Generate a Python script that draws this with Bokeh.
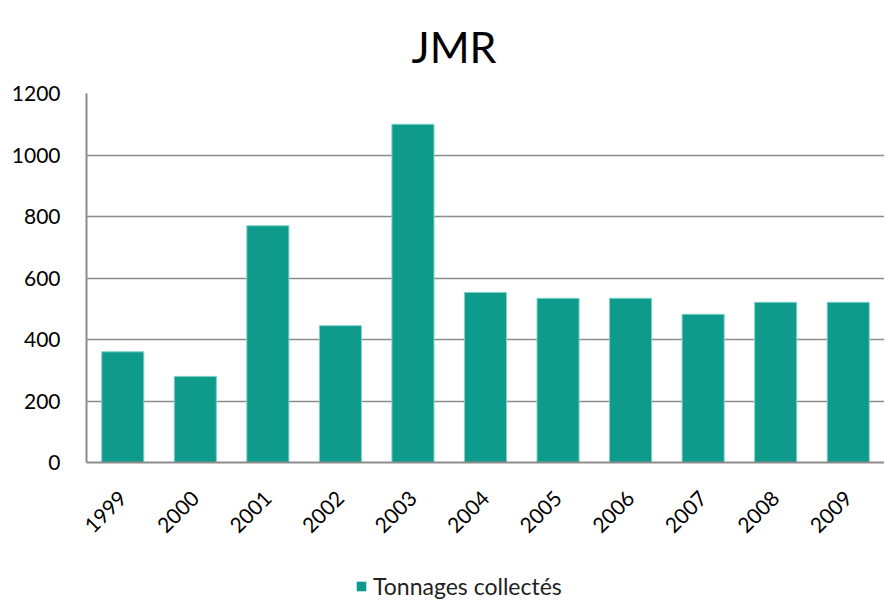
from bokeh.plotting import figure
from bokeh.layouts import column
from bokeh.models import ColumnDataSource, Range1d, Legend, LegendItem, FixedTicker
from bokeh.embed import file_html
from bokeh.resources import INLINE

years = ["1999", "2000", "2001", "2002", "2003", "2004", "2005", "2006", "2007", "2008", "2009"]
tonnages = [360, 280, 770, 445, 1100, 553, 534, 534, 482, 521, 521]
series_name = "Tonnages collectés"
y_ticks = [0, 200, 400, 600, 800, 1000, 1200]

FONT = "Lato"
COLOR = "#0F9B8B"
src = ColumnDataSource(dict(x=years, top=tonnages))

p = figure(x_range=years, y_range=Range1d(0, 1200), width=884, height=570,
           output_backend="svg", toolbar_location=None, title="JMR",
           min_border_left=86, min_border_right=0, min_border_top=91, min_border_bottom=108)
p.title.align = "left"
p.title.offset = 325
p.title.vertical_align = "top"
p.title.text_font = FONT
p.title.text_font_size = "43px"
p.title.text_font_style = "normal"
p.title.text_color = "#000000"
p.title.standoff = 40

r = p.vbar(x="x", top="top", width=0.58, source=src, fill_color=COLOR, line_color="#7fd3c8", line_width=1)

p.outline_line_color = None
p.xgrid.grid_line_color = None
p.ygrid.grid_line_color = "#8c8c8c"
p.ygrid.grid_line_width = 1.5
p.yaxis.ticker = FixedTicker(ticks=y_ticks)
for ax in (p.xaxis, p.yaxis):
    ax.axis_line_color = "#8c8c8c"
    ax.axis_line_width = 2
    ax.major_tick_line_color = None
    ax.minor_tick_line_color = None
    ax.major_label_text_font = FONT
    ax.major_label_text_font_size = "21px"
    ax.major_label_text_color = "#000000"
p.yaxis.major_label_standoff = 20
p.xaxis.major_label_orientation = 0.785
p.xaxis.major_label_standoff = 26

# legend strip below the chart
lg = figure(width=884, height=32, x_range=Range1d(0, 1), y_range=Range1d(0, 1),
            output_backend="svg", toolbar_location=None,
            min_border_left=0, min_border_right=0, min_border_top=0, min_border_bottom=0)
lg.axis.visible = False
lg.grid.visible = False
lg.outline_line_color = None
dummy = lg.vbar(x=[0], top=[0], width=0, fill_color=COLOR, line_color=None)
legend = Legend(items=[LegendItem(label=series_name, renderers=[dummy])], location=(269, 2),
                orientation="horizontal", label_text_font=FONT, label_text_font_size="23px",
                label_text_color="#222222",
                glyph_width=12, glyph_height=12, border_line_color=None, padding=0, margin=0,
                label_standoff=6, background_fill_alpha=0)
lg.add_layout(legend, "center")

layout = column(p, lg, spacing=0)
open("out.html", "w").write(file_html(layout, INLINE))
